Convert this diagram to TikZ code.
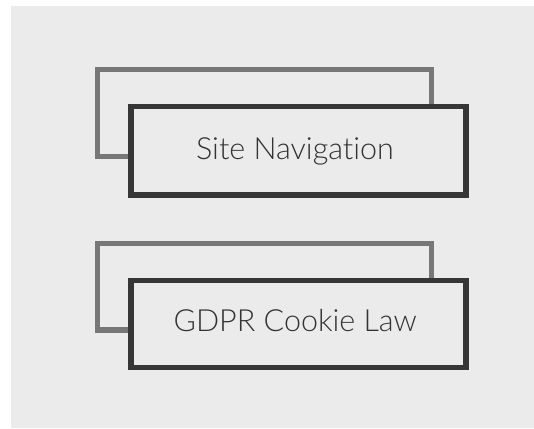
\documentclass[tikz,border=0pt]{standalone}
\usepackage{fontspec}
\setmainfont{Lato Light}[Ligatures={NoCommon}]
\definecolor{bgpanel}{HTML}{EBEBEB}
\definecolor{backedge}{HTML}{777777}
\definecolor{frontedge}{HTML}{363636}
\definecolor{labeltext}{HTML}{333333}
\tikzset{
  backcard/.style={draw=backedge, line width=5.2pt, fill=bgpanel},
  frontcard/.style={draw=frontedge, line width=5.4pt, fill=bgpanel},
  cardlabel/.style={text=labeltext, font=\fontsize{30.5}{34}\selectfont, anchor=base}
}
\begin{document}
\begin{tikzpicture}[x=1pt, y=-1pt]
  \useasboundingbox (0,0) rectangle (534,428);
  \fill[white] (0,0) rectangle (534,428);
  \fill[bgpanel] (11,6) rectangle (534,428);
  % first card pair
  \draw[backcard] (97.5,69.5) rectangle (431.5,156.7);
  \node[frontcard, minimum width=335pt, minimum height=88.2pt, inner sep=0pt, anchor=north west] (nav) at (128.3,104) {};
  \node[cardlabel] (navtext) at (295,159.3) {Site Navigation};
  % second card pair
  \draw[backcard] (97.5,243.3) rectangle (431.5,330);
  \node[frontcard, minimum width=335pt, minimum height=86.9pt, inner sep=0pt, anchor=north west] (gdpr) at (128.3,277.8) {};
  \node[cardlabel] (gdprtext) at (295.3,331.7) {GDPR Cookie Law};
\end{tikzpicture}
\end{document}
